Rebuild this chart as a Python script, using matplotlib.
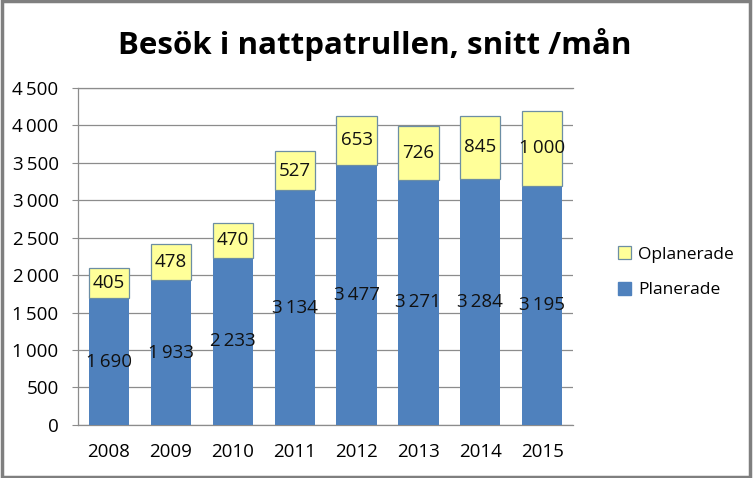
import matplotlib
matplotlib.use("Agg")
import matplotlib.pyplot as plt
from matplotlib.patches import Patch, Rectangle

# data
years = ["2008", "2009", "2010", "2011", "2012", "2013", "2014", "2015"]
planerade = [1690, 1933, 2233, 3134, 3477, 3271, 3284, 3195]
oplanerade = [405, 478, 470, 527, 653, 726, 845, 1000]
yticks = [0, 500, 1000, 1500, 2000, 2500, 3000, 3500, 4000, 4500]

BLUE = "#4F81BD"
YELLOW = "#FFFF99"
EDGE = "#6C8EA4"
GRID = "#8C8C8C"
FONT = "Open Sans"
FS = 13.5


def fmt(v):
    # thousands separator as a narrow space, like the original
    s = "{:,}".format(v)
    return s.replace(",", "\u2009")


fig = plt.figure(figsize=(7.53, 4.78), dpi=100)
ax = fig.add_axes([0.1036, 0.111, 0.6575, 0.705])

x = list(range(len(years)))
w = 0.65
ax.bar(x, planerade, width=w, color=BLUE, zorder=3, label="Planerade")
ax.bar(x, oplanerade, width=w, bottom=planerade, color=YELLOW,
       edgecolor=EDGE, linewidth=0.9, zorder=3, label="Oplanerade")

# value labels in middle of each segment
for i in x:
    ax.text(i, planerade[i] / 2.0, fmt(planerade[i]), ha="center", va="center",
            fontsize=FS, family=[FONT, "DejaVu Sans"], color="#111111", zorder=4)
    ax.text(i, planerade[i] + oplanerade[i] / 2.0, fmt(oplanerade[i]),
            ha="center", va="center", fontsize=FS, family=[FONT, "DejaVu Sans"],
            color="#111111", zorder=4)

ax.set_xlim(-0.5, len(years) - 0.5)
ax.set_ylim(0, 4500)
ax.set_yticks(yticks)
ax.set_yticklabels([fmt(v) for v in yticks])
ax.set_xticks(x)
ax.set_xticklabels(years)
for lab in ax.get_xticklabels() + ax.get_yticklabels():
    lab.set_family([FONT, "DejaVu Sans"])
    lab.set_fontsize(FS)

ax.yaxis.grid(True, color=GRID, linewidth=0.9, zorder=0)
ax.tick_params(axis="y", length=4, color=GRID, pad=10)
ax.tick_params(axis="x", length=0, pad=13)
for side in ["top", "left", "bottom"]:
    ax.spines[side].set_color(GRID)
    ax.spines[side].set_linewidth(0.9)
ax.spines["right"].set_visible(False)

fig.text(0.498, 0.906, "Besök i nattpatrullen, snitt /mån", ha="center",
         va="center", fontsize=22.5, fontweight="bold", family=[FONT, "DejaVu Sans"])

handles = [Patch(facecolor=YELLOW, edgecolor=EDGE, linewidth=0.9),
           Patch(facecolor=BLUE, edgecolor=BLUE)]
fig.legend(handles, ["Oplanerade", "Planerade"], loc="center left",
           bbox_to_anchor=(0.8, 0.43), frameon=False, handlelength=0.75,
           handleheight=0.75, handletextpad=0.4, labelspacing=1.1,
           prop={"family": [FONT, "DejaVu Sans"], "size": 12.5})

# outer chart border
fig.patches.append(Rectangle((0.002, 0.003), 0.994, 0.994, transform=fig.transFigure,
                             fill=False, edgecolor="#7F7F7F", linewidth=2.5))

fig.savefig("out.png", dpi=100)
